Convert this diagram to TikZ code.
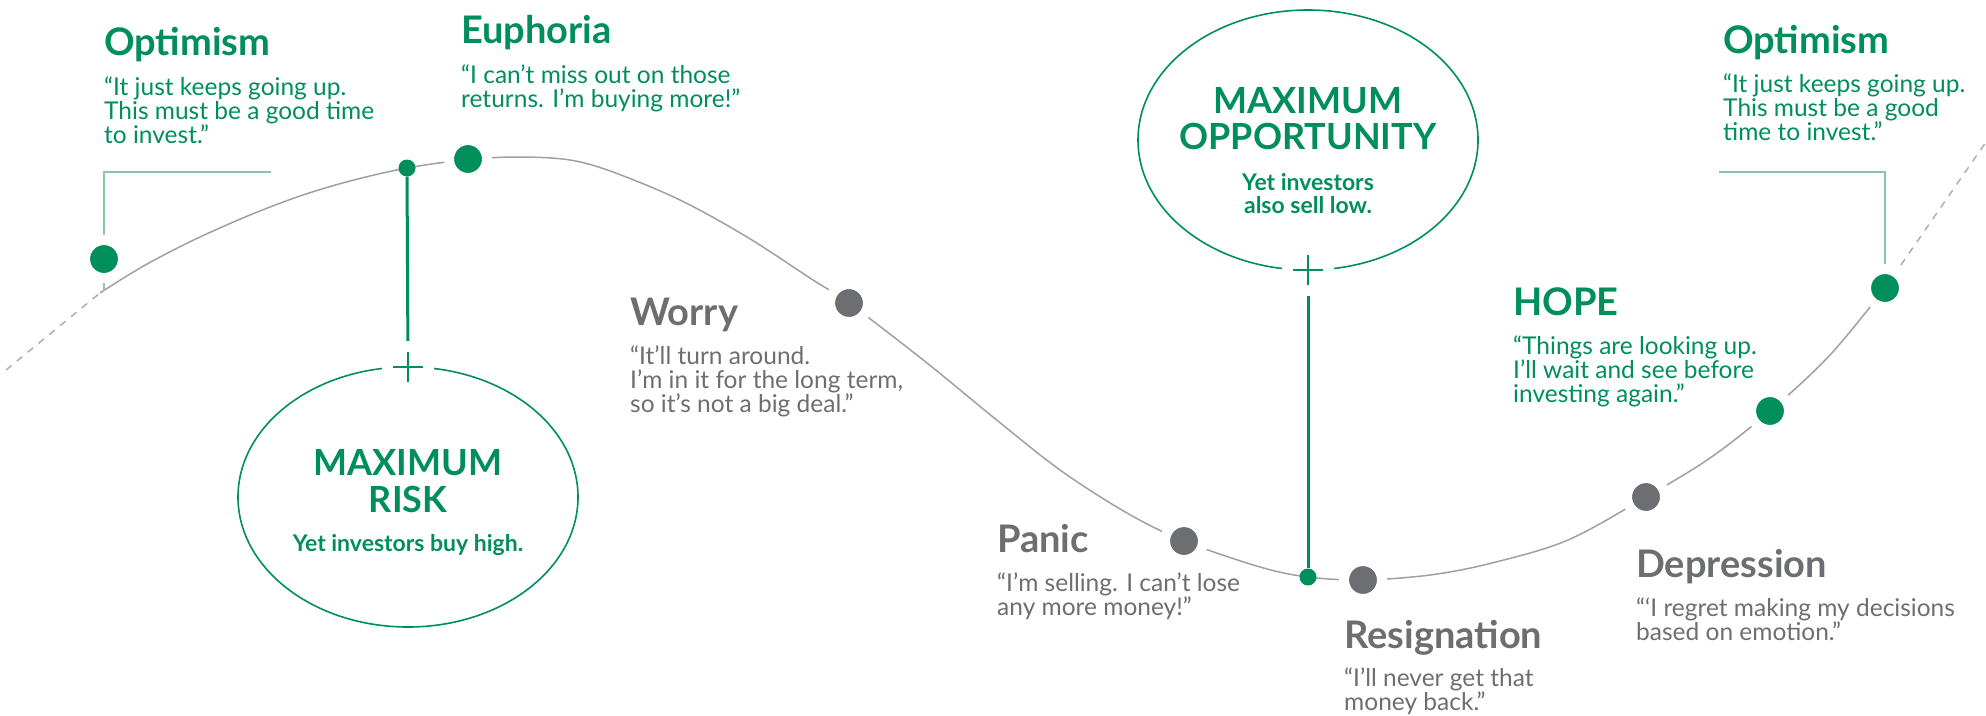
\documentclass[tikz,border=0pt]{standalone}
\usepackage{fontspec}
\setmainfont{Lato}
\usetikzlibrary{shapes.geometric}
\definecolor{grn}{RGB}{0,142,90}
\definecolor{dgray}{RGB}{109,110,113}
\definecolor{cgray}{RGB}{160,160,160}
\definecolor{lgrn}{RGB}{140,196,165}
\begin{document}
\begin{tikzpicture}[x=1pt,y=-1pt,
  title/.style={font=\fontsize{38}{44}\selectfont\bfseries, anchor=base west, inner sep=0},
  quote/.style={font=\fontsize{24.5}{24}\selectfont, anchor=base west, inner sep=0, align=left},
  bigt/.style={font=\fontsize{36}{37}\selectfont\bfseries, anchor=base, inner sep=0, text=grn},
  subt/.style={font=\fontsize{23}{23}\selectfont\bfseries, anchor=base, inner sep=0, text=grn},
  bigdot/.style={circle, fill=#1, draw=white, line width=10, minimum size=38, inner sep=0},
  smalldot/.style={circle, fill=grn, minimum size=17, inner sep=0},
  curve/.style={cgray, line width=1.5},
  dashcurve/.style={cgray!85, line width=1.5, dash pattern=on 7 off 7},
  leader/.style={lgrn, line width=1.5},
  vline/.style={grn, line width=3},
  oval/.style={ellipse, draw=grn, line width=1.6, minimum width=340, minimum height=260, inner sep=0},
  plusmark/.style={circle, fill=white, minimum size=52, inner sep=0,
    path picture={\draw[grn, line width=2.8]
      ([xshift=-15pt]path picture bounding box.center) -- ([xshift=15pt]path picture bounding box.center)
      ([yshift=-15pt]path picture bounding box.center) -- ([yshift=15pt]path picture bounding box.center);}}
]
\useasboundingbox (0,0) rectangle (1986,715);

% curve
\coordinate (cs) at (100,293);
\coordinate (dl) at (6,370);
\coordinate (ce) at (1885,288);
\coordinate (dr) at (1986,142);
\draw[dashcurve] (dl) -- (cs);
\draw[dashcurve] (ce) -- (dr);
\draw[curve] plot[smooth, tension=0.55] coordinates {
 (100,293) (130,274) (160,257) (200,237) (250,215) (300,196) (350,181) (407,168) (468,159.5)
 (520,157) (570,160) (613,172) (680,200)
 (747,237) (813,280) (849,303) (927,363) (993,417) (1060,470) (1127,513) (1184,541) (1260,567)
 (1308,577) (1363,580) (1430,575) (1492,563) (1568,540) (1646,497) (1710,458) (1770,411) (1830,355) (1885,288)};

% leader lines
\coordinate (lo1) at (271,172);
\coordinate (lo2) at (104,291);
\coordinate (ro1) at (1719,172);
\draw[leader] (lo1) -| (lo2);

% ellipses
\node[oval] (risk) at (408,497) {};
\node[oval] (opp) at (1308,140) {};
\node[plusmark] (rp) at (408,367) {};
\node[plusmark] (op) at (1308,270) {};

% dots
\node[bigdot=grn] (opt1) at (104,259) {};
\node[smalldot] (sd1) at (407,168) {};
\node[bigdot=grn] (eup) at (468,159) {};
\node[bigdot=dgray] (wor) at (849,303) {};
\node[bigdot=dgray] (pan) at (1184,541) {};
\node[smalldot] (sd2) at (1308,577) {};
\node[bigdot=dgray] (res) at (1363,580) {};
\node[bigdot=dgray] (dep) at (1646,497) {};
\node[bigdot=grn] (hop) at (1770,411) {};
\node[bigdot=grn] (opt2) at (1885,288) {};
\draw[leader] (ro1) -| (opt2);

\draw[vline] (sd1) -- (rp);
\draw[vline] (op) -- (sd2);

% ellipse texts
\node[bigt] (r1) at (408,475) {MAXIMUM};
\node[bigt] (r2) at (408,512) {RISK};
\node[subt] (r3) at (408,551) {Yet investors buy high.};
\node[bigt] (o1) at (1308,113) {MAXIMUM};
\node[bigt] (o2) at (1308,149) {OPPORTUNITY};
\node[subt] (o3) at (1308,190) {Yet investors};
\node[subt] (o4) at (1308,213) {also sell low.};

% stage texts (quote nodes anchored at the baseline of their last line)
\node[title, text=grn] (t1) at (104,55) {Optimism};
\node[quote, text=grn] (q1) at (104,143) {“It just keeps going up.\\This must be a good time\\to invest.”};
\node[title, text=grn] (t2) at (461,43) {Euphoria};
\node[quote, text=grn] (q2) at (461,107) {“I can’t miss out on those\\returns. I’m buying more!”};
\node[title, text=dgray] (t3) at (630,325) {Worry};
\node[quote, text=dgray] (q3) at (630,412) {“It’ll turn around.\\I’m in it for the long term,\\so it’s not a big deal.”};
\node[title, text=dgray] (t4) at (997,552) {Panic};
\node[quote, text=dgray] (q4) at (997,615) {“I’m selling. I can’t lose\\any more money!”};
\node[title, text=dgray] (t5) at (1344,648) {Resignation};
\node[quote, text=dgray] (q5) at (1344,710) {“I’ll never get that\\money back.”};
\node[title, text=dgray] (t6) at (1636,577) {Depression};
\node[quote, text=dgray] (q6) at (1636,640) {“‘I regret making my decisions\\based on emotion.”};
\node[title, text=grn] (t7) at (1513,315) {HOPE};
\node[quote, text=grn] (q7) at (1513,402) {“Things are looking up.\\I’ll wait and see before\\investing again.”};
\node[title, text=grn] (t8) at (1723,53) {Optimism};
\node[quote, text=grn] (q8) at (1723,140) {“It just keeps going up.\\This must be a good\\time to invest.”};
\end{tikzpicture}
\end{document}
